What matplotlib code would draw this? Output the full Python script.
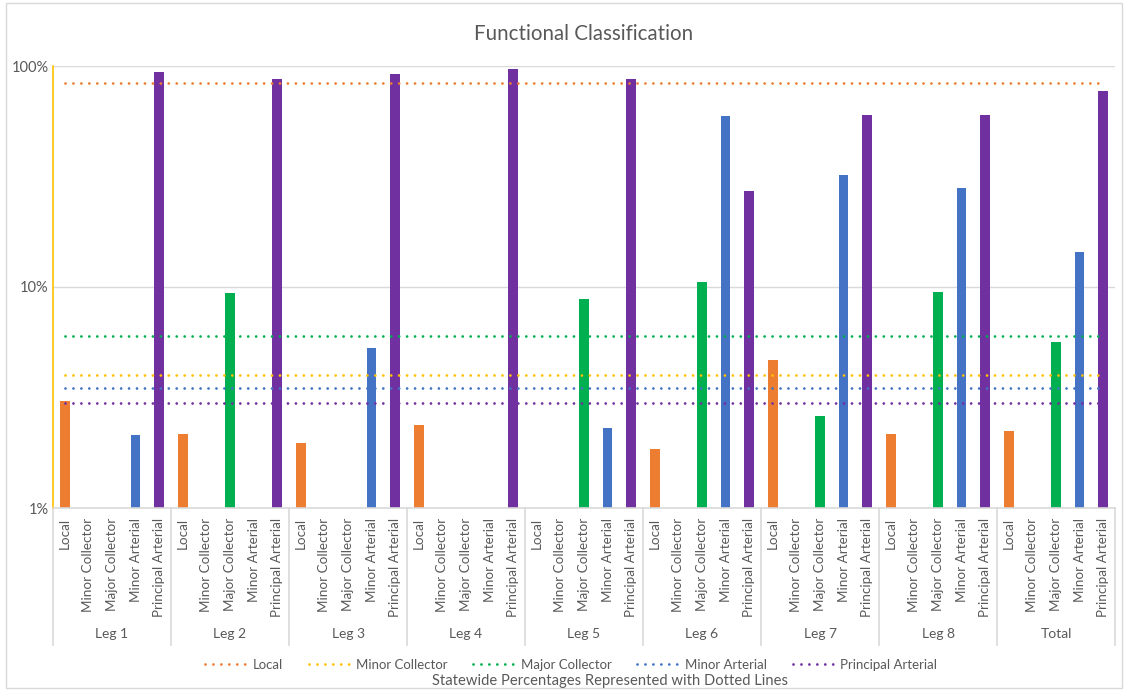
import numpy as np
import matplotlib
matplotlib.use("Agg")
import matplotlib.pyplot as plt
from matplotlib.lines import Line2D
from matplotlib.patches import Rectangle

groups = ['Leg 1', 'Leg 2', 'Leg 3', 'Leg 4', 'Leg 5', 'Leg 6', 'Leg 7', 'Leg 8', 'Total']
categories = ['Local', 'Minor Collector', 'Major Collector', 'Minor Arterial', 'Principal Arterial']

nan = np.nan
local = [3.05, 2.16, 1.97, 2.37, nan, 1.85, 4.66, 2.17, 2.22]
minor_collector = [nan, nan, nan, nan, nan, nan, nan, nan, nan]
major_collector = [nan, 9.4, nan, nan, 8.85, 10.5, 2.61, 9.5, 5.64]
minor_arterial = [2.13, nan, 5.3, nan, 2.29, 59.6, 32.1, 28.0, 14.4]
principal_arterial = [93.6, 87.0, 92.0, 96.6, 87.0, 27.2, 60.2, 60.2, 77.3]

statewide = [83.5, 4.0, 6.0, 3.5, 3.0]

colors = ['#ED7D31', '#FFC000', '#00B050', '#4472C4', '#7030A0']
series = [local, minor_collector, major_collector, minor_arterial, principal_arterial]

plt.rcParams['font.family'] = ['Lato', 'DejaVu Sans']
txt = '#595959'

fig = plt.figure(figsize=(11.28, 6.9), dpi=100)
W, H = 1128, 690
L, R, B, T = 53, 1115, 508, 66
ax = fig.add_axes([L / W, 1 - B / H, (R - L) / W, (B - T) / H])

ncat = len(categories)
ng = len(groups)
n = ncat * ng
base = 1.0
for ci, (vals, col) in enumerate(zip(series, colors)):
    for gi, v in enumerate(vals):
        if np.isfinite(v):
            ax.bar(gi * ncat + ci, v - base, bottom=base, width=0.4, color=col, zorder=2)

xs = np.arange(n)
for sv, col in zip(statewide, colors):
    ax.plot([xs[0], xs[-1]], [sv, sv], color=col, lw=2.0,
            linestyle=(0, (0.01, 2.85)), dash_capstyle='round', zorder=3)

ax.set_yscale('log')
ax.set_ylim(1, 100)
ax.set_xlim(-0.5, n - 0.5)
ax.set_yticks([1, 10, 100])
ax.set_yticklabels(['1%', '10%', '100%'])
ax.yaxis.set_minor_locator(matplotlib.ticker.NullLocator())
ax.tick_params(axis='y', length=0, labelsize=10.5, colors=txt, pad=3)
ax.set_xticks([])
ax.grid(axis='y', which='major', color='#D9D9D9', lw=1, zorder=0)
for s in ['top', 'right']:
    ax.spines[s].set_visible(False)
ax.spines['left'].set_color('#FFC000')
ax.spines['left'].set_linewidth(1.2)
ax.spines['bottom'].set_color('#D9D9D9')
ax.spines['bottom'].set_linewidth(1.2)

# category labels
for gi in range(ng):
    for ci, c in enumerate(categories):
        ax.annotate(c, xy=(gi * ncat + ci, 0), xycoords=('data', 'axes fraction'),
                    xytext=(0, -10), textcoords='offset pixels', rotation=90,
                    ha='center', va='top', fontsize=9.7, color=txt)
    ax.annotate(groups[gi], xy=(gi * ncat + (ncat - 1) / 2, 0), xycoords=('data', 'axes fraction'),
                xytext=(0, -126), textcoords='offset pixels',
                ha='center', va='center', fontsize=10, color=txt)

sep_y = -137 / (B - T)
for gi in range(ng + 1):
    xb = gi * ncat - 0.5
    ax.plot([xb, xb], [0, sep_y], transform=ax.get_xaxis_transform(),
            color='#D9D9D9', lw=1.2, clip_on=False)

fig.text((L + R) / 2 / W, 1 - 34 / H, 'Functional Classification', ha='center', va='center',
         fontsize=14.8, color=txt)

handles = [Line2D([0], [0], color=c, lw=2.0, linestyle=(0, (0.01, 2.85)), dash_capstyle='round')
           for c in colors]
fig.legend(handles, categories, loc='center', bbox_to_anchor=(571 / W, 1 - 665 / H), ncol=5,
           frameon=False, fontsize=9.5, labelcolor=txt, handlelength=3.2, columnspacing=1.97,
           handletextpad=0.38)
fig.text(610 / W, 1 - 681 / H, 'Statewide Percentages Represented with Dotted Lines',
         ha='center', va='center', fontsize=10.65, color=txt)

fig.patches.append(Rectangle((6 / W, 1 - 688 / H), (1122 - 6) / W, (688 - 3) / H,
                             transform=fig.transFigure, fill=False, edgecolor='#D9D9D9', lw=1))

fig.savefig('out.png', dpi=100)
